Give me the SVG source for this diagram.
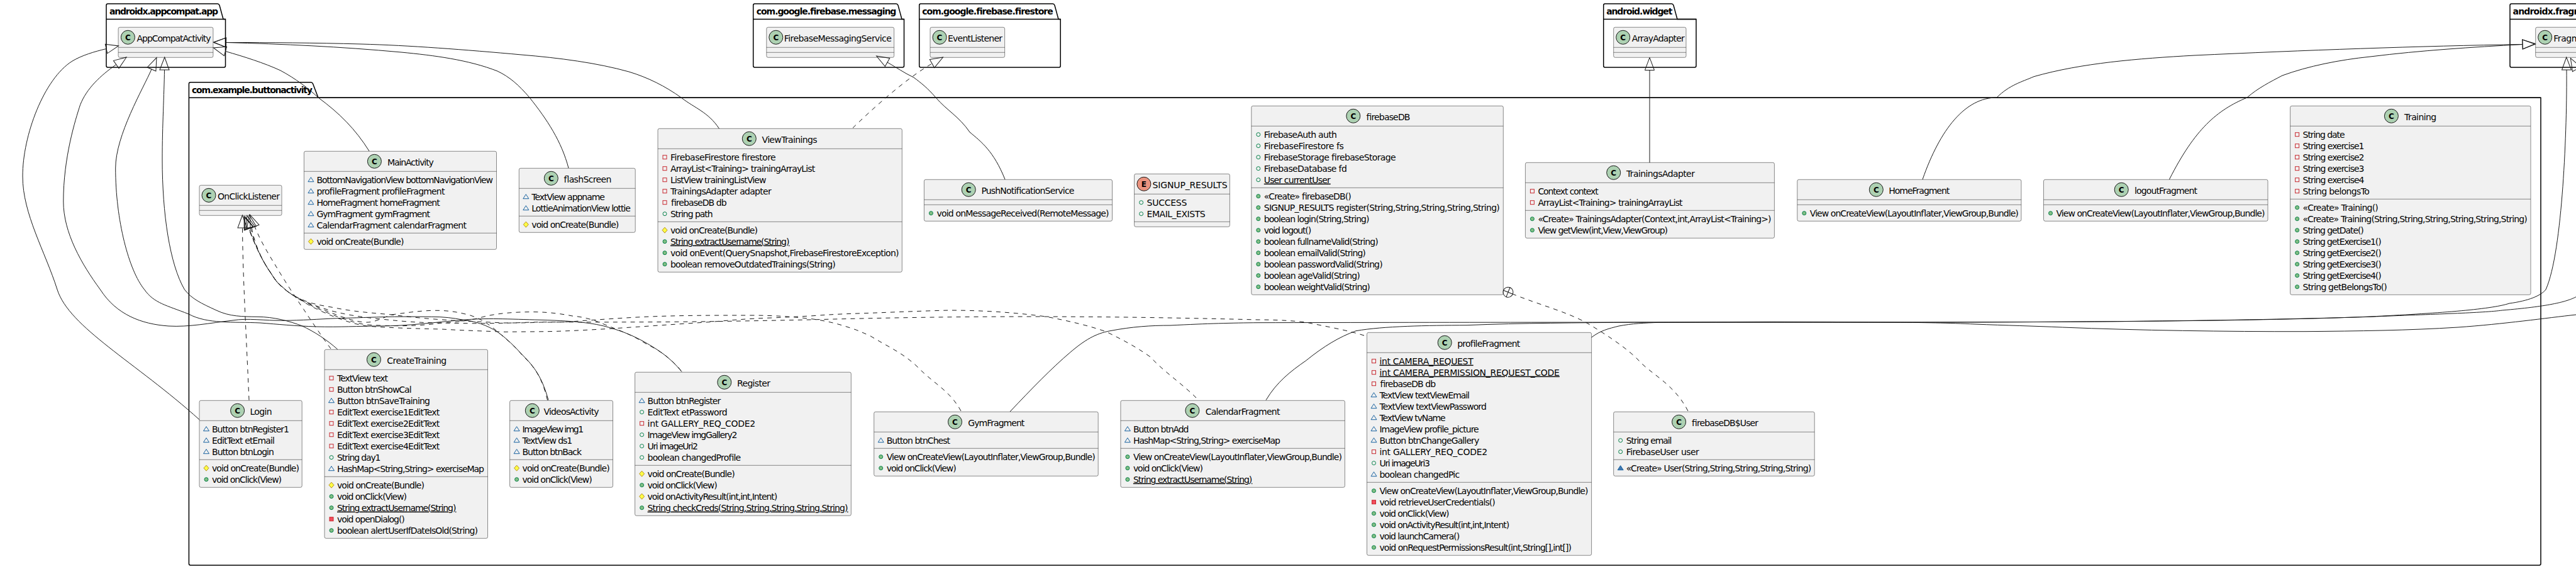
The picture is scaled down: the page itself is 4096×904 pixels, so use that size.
<svg xmlns="http://www.w3.org/2000/svg" width="4096" height="904" viewBox="0 0 4096 904">
<style>
svg{background:#fff}
text{font-family:"DejaVu Sans","Liberation Sans",sans-serif;font-size:14px;fill:#000}
.p{font-weight:bold}
.u{text-decoration:underline}
.sp{font-weight:bold;font-size:12px;text-anchor:middle}
.pk,.pl{fill:none;stroke:#000;stroke-width:1.5}
.b{fill:#F1F1F1;stroke:#181818;stroke-width:.5}
.d{stroke:#181818;stroke-width:.5}
.sc{fill:#ADD1B2;stroke:#181818}
.se{fill:#EB937F;stroke:#181818}
.c{fill:none;stroke:#181818;stroke-width:1}
.dd{stroke-dasharray:7,7}
.e{marker-end:url(#ext)}
.ah{fill:none;stroke:#181818;stroke-width:1}
</style>
<defs>
<marker id="ext" markerUnits="userSpaceOnUse" markerWidth="44" markerHeight="24" refX="1" refY="12" orient="auto" viewBox="0 0 44 24" overflow="visible"><path class="ah" d="M1,4.5 L21,12 L1,19.5 Z"/></marker>
<marker id="nest" markerUnits="userSpaceOnUse" markerWidth="20" markerHeight="20" refX="1" refY="10" orient="auto" viewBox="0 0 20 20" overflow="visible"><path class="ah" d="M9,2 A8,8 0 1 1 9,18 A8,8 0 1 1 9,2 Z M1,10 H17 M9,2 V18"/></marker>
<rect id="fp" x="-3" y="-3" width="6" height="6" fill="none" stroke="#C82930"/>
<path id="fk" d="M-4.5,3 L0,-4 L4.5,3 Z" fill="none" stroke="#1963A0"/>
<circle id="fu" r="3" fill="none" stroke="#038048"/>
<rect id="mp" x="-3" y="-3" width="6" height="6" fill="#F24D5C" stroke="#C82930"/>
<path id="mk" d="M-4.5,3 L0,-4 L4.5,3 Z" fill="#4177AF" stroke="#1963A0"/>
<circle id="mu" r="3" fill="#84BE84" stroke="#038048"/>
<path id="mo" d="M0,-4.5 L4,0 L0,4.5 L-4,0 Z" fill="#FFFF44" stroke="#B38D22"/>
</defs>

<g id="packages">
<g id="pkg-appcompat"><path class="pk" d="M171.5,6 H346 Q348,6 349,8.5 L355,30.5 H358.5 V104.5 Q358.5,107 356,107 H171.5 Q169,107 169,104.5 V8.5 Q169,6 171.5,6 Z"/><line class="pl" x1="169" y1="30.5" x2="358.5" y2="30.5"/><text class="p" x="174" y="23.3" textLength="173">androidx.appcompat.app</text></g>
<g id="pkg-messaging"><path class="pk" d="M1200,6 H1425 Q1427,6 1428,8.5 L1434,30.5 H1437.5 V104.5 Q1437.5,107 1435,107 H1200 Q1197.7,107 1197.7,104.5 V8.5 Q1197.7,6 1200,6 Z"/><line class="pl" x1="1197.7" y1="30.5" x2="1437.5" y2="30.5"/><text class="p" x="1202.8" y="23.3" textLength="222.6">com.google.firebase.messaging</text></g>
<g id="pkg-firestore"><path class="pk" d="M1464,6 H1674 Q1676,6 1677,8.5 L1683,30.5 H1686.2 V104.5 Q1686.2,107 1684,107 H1464 Q1461.7,107 1461.7,104.5 V8.5 Q1461.7,6 1464,6 Z"/><line class="pl" x1="1461.7" y1="30.5" x2="1686.2" y2="30.5"/><text class="p" x="1466.2" y="23.3" textLength="208.5">com.google.firebase.firestore</text></g>
<g id="pkg-widget"><path class="pk" d="M2552,6 H2658 Q2660,6 2661,8.5 L2667,30.5 H2697 V104.5 Q2697,107 2694.5,107 H2552 Q2549.7,107 2549.7,104.5 V8.5 Q2549.7,6 2552,6 Z"/><line class="pl" x1="2549.7" y1="30.5" x2="2697" y2="30.5"/><text class="p" x="2554.2" y="23.3" textLength="105.2">android.widget</text></g>
<g id="pkg-fragment"><path class="pk" d="M3993.5,6 H4160 L4166,30.5 H4200 V107 H3993.5 Q3991,107 3991,104.5 V8.5 Q3991,6 3993.5,6 Z"/><line class="pl" x1="3991" y1="30.5" x2="4200" y2="30.5"/><text class="p" x="3995.5" y="23.3" textLength="167">androidx.fragment.app</text></g>
<g id="pkg-buttonactivity"><path class="pk" d="M303,130.7 H494.5 Q496.5,130.7 497.5,133 L506,155.3 H4040 V895.5 Q4040,898 4037.5,898 H303 Q300.4,898 300.4,895.5 V133 Q300.4,130.7 303,130.7 Z"/><line class="pl" x1="300.4" y1="155.3" x2="4040" y2="155.3"/><text class="p" x="305" y="147.7" textLength="192">com.example.buttonactivity</text></g>
</g>

<g id="AppCompatActivity" transform="translate(188.1,43.3)"><rect class="b" width="150.8" height="48" rx="2.5"/><line class="d" x2="150.8" y1="32" y2="32"/><line class="d" x2="150.8" y1="40" y2="40"/><circle class="sc" cx="15.3" cy="16" r="11"/><text class="sp" x="15.3" y="20.4">C</text><text x="29.5" y="22.4" textLength="118">AppCompatActivity</text></g>
<g id="FirebaseMessagingService" transform="translate(1218.8,43.3)"><rect class="b" width="202.8" height="48" rx="2.5"/><line class="d" x2="202.8" y1="32" y2="32"/><line class="d" x2="202.8" y1="40" y2="40"/><circle class="sc" cx="15" cy="16" r="11"/><text class="sp" x="15" y="20.4">C</text><text x="28" y="22.4" textLength="171">FirebaseMessagingService</text></g>
<g id="EventListener" transform="translate(1479,43.3)"><rect class="b" width="118.6" height="48" rx="2.5"/><line class="d" x2="118.6" y1="32" y2="32"/><line class="d" x2="118.6" y1="40" y2="40"/><circle class="sc" cx="15" cy="16" r="11"/><text class="sp" x="15" y="20.4">C</text><text x="28" y="22.4" textLength="87">EventListener</text></g>
<g id="ArrayAdapter" transform="translate(2565.7,43.3)"><rect class="b" width="115.3" height="48" rx="2.5"/><line class="d" x2="115.3" y1="32" y2="32"/><line class="d" x2="115.3" y1="40" y2="40"/><circle class="sc" cx="15" cy="16" r="11"/><text class="sp" x="15" y="20.4">C</text><text x="29" y="22.4" textLength="84">ArrayAdapter</text></g>
<g id="Fragment" transform="translate(4031.7,43.3)"><rect class="b" width="100" height="48" rx="2.5"/><line class="d" x2="100" y1="32" y2="32"/><line class="d" x2="100" y1="40" y2="40"/><circle class="sc" cx="15" cy="16" r="11"/><text class="sp" x="15" y="20.4">C</text><text x="28.5" y="22.4" textLength="64">Fragment</text></g>

<g id="OnClickListener" transform="translate(317,294.3)"><rect class="b" width="131" height="48" rx="2.5"/><line class="d" x2="131" y1="32" y2="32"/><line class="d" x2="131" y1="40" y2="40"/><circle class="sc" cx="15" cy="16" r="11"/><text class="sp" x="15" y="20.4">C</text><text x="29" y="22.4" textLength="99">OnClickListener</text></g>

<g id="MainActivity" transform="translate(483.4,240.3)"><rect class="b" width="306.1" height="156" rx="2.5"/><line class="d" x2="306.1" y1="32" y2="32"/><line class="d" x2="306.1" y1="130" y2="130"/><circle class="sc" cx="112" cy="16" r="11"/><text class="sp" x="112" y="20.4">C</text><text x="132.5" y="22.4" textLength="74">MainActivity</text>
<use href="#fk" x="11" y="45.4"/><text x="20" y="50.4" textLength="280.6">BottomNavigationView bottomNavigationView</text>
<use href="#fk" x="11" y="63.4"/><text x="20" y="68.4" textLength="204">profileFragment profileFragment</text>
<use href="#fk" x="11" y="81.4"/><text x="20" y="86.4" textLength="196.4">HomeFragment homeFragment</text>
<use href="#fk" x="11" y="99.4"/><text x="20" y="104.4" textLength="180.5">GymFragment gymFragment</text>
<use href="#fk" x="11" y="117.4"/><text x="20" y="122.4" textLength="238.5">CalendarFragment calendarFragment</text>
<use href="#mo" x="11" y="143.4"/><text x="20" y="148.4" textLength="139">void onCreate(Bundle)</text></g>

<g id="flashScreen" transform="translate(825.3,267.3)"><rect class="b" width="184.9" height="102" rx="2.5"/><line class="d" x2="184.9" y1="32" y2="32"/><line class="d" x2="184.9" y1="76" y2="76"/><circle class="sc" cx="51" cy="16" r="11"/><text class="sp" x="51" y="20.4">C</text><text x="70.5" y="22.4" textLength="76">flashScreen</text>
<use href="#fk" x="11" y="45.4"/><text x="20" y="50.4" textLength="116.7">TextView appname</text>
<use href="#fk" x="11" y="63.4"/><text x="20" y="68.4" textLength="157.5">LottieAnimationView lottie</text>
<use href="#mo" x="11" y="89.4"/><text x="20" y="94.4" textLength="139">void onCreate(Bundle)</text></g>

<g id="ViewTrainings" transform="translate(1046,204.3)"><rect class="b" width="388.3" height="228" rx="2.5"/><line class="d" x2="388.3" y1="32" y2="32"/><line class="d" x2="388.3" y1="148" y2="148"/><circle class="sc" cx="145.3" cy="16" r="11"/><text class="sp" x="145.3" y="20.4">C</text><text x="165.5" y="22.4" textLength="88">ViewTrainings</text>
<use href="#fp" x="11" y="45.4"/><text x="20" y="50.4" textLength="167.7">FirebaseFirestore firestore</text>
<use href="#fp" x="11" y="63.4"/><text x="20" y="68.4" textLength="230.2">ArrayList&lt;Training&gt; trainingArrayList</text>
<use href="#fp" x="11" y="81.4"/><text x="20" y="86.4" textLength="152.4">ListView trainingListView</text>
<use href="#fp" x="11" y="99.4"/><text x="20" y="104.4" textLength="160.7">TrainingsAdapter adapter</text>
<use href="#fp" x="11" y="117.4"/><text x="20" y="122.4" textLength="88.6">firebaseDB db</text>
<use href="#fu" x="11" y="135.4"/><text x="20" y="140.4" textLength="67.6">String path</text>
<use href="#mo" x="11" y="161.4"/><text x="20" y="166.4" textLength="139">void onCreate(Bundle)</text>
<use href="#mu" x="11" y="179.4"/><text class="u" x="20" y="184.4" textLength="189.4">String extractUsername(String)</text>
<use href="#mu" x="11" y="197.4"/><text x="20" y="202.4" textLength="363.5">void onEvent(QuerySnapshot,FirebaseFirestoreException)</text>
<use href="#mu" x="11" y="215.4"/><text x="20" y="220.4" textLength="262.8">boolean removeOutdatedTrainings(String)</text></g>

<g id="PushNotificationService" transform="translate(1469.4,285.3)"><rect class="b" width="299.1" height="66" rx="2.5"/><line class="d" x2="299.1" y1="32" y2="32"/><line class="d" x2="299.1" y1="40" y2="40"/><circle class="sc" cx="70.8" cy="16" r="11"/><text class="sp" x="70.8" y="20.4">C</text><text x="91" y="22.4" textLength="148">PushNotificationService</text>
<use href="#mu" x="11" y="53.4"/><text x="20" y="58.4" textLength="274.2">void onMessageReceived(RemoteMessage)</text></g>

<g id="SIGNUP_RESULTS" transform="translate(1803.6,276.3)"><rect class="b" width="151.8" height="84" rx="2.5"/><line class="d" x2="151.8" y1="32" y2="32"/><line class="d" x2="151.8" y1="76" y2="76"/><circle class="se" cx="15.3" cy="16" r="11"/><text class="sp" x="15.3" y="20.4">E</text><text x="29" y="22.4" textLength="119">SIGNUP_RESULTS</text>
<use href="#fu" x="11" y="45.4"/><text x="20" y="50.4" textLength="63.8">SUCCESS</text>
<use href="#fu" x="11" y="63.4"/><text x="20" y="68.4" textLength="93">EMAIL_EXISTS</text></g>

<g id="firebaseDB" transform="translate(1989.8,168.3)"><rect class="b" width="400.5" height="300" rx="2.5"/><line class="d" x2="400.5" y1="32" y2="32"/><line class="d" x2="400.5" y1="130" y2="130"/><circle class="sc" cx="162" cy="16" r="11"/><text class="sp" x="162" y="20.4">C</text><text x="181.8" y="22.4" textLength="70">firebaseDB</text>
<use href="#fu" x="11" y="45.4"/><text x="20" y="50.4" textLength="116">FirebaseAuth auth</text>
<use href="#fu" x="11" y="63.4"/><text x="20" y="68.4" textLength="127">FirebaseFirestore fs</text>
<use href="#fu" x="11" y="81.4"/><text x="20" y="86.4" textLength="209.8">FirebaseStorage firebaseStorage</text>
<use href="#fu" x="11" y="99.4"/><text x="20" y="104.4" textLength="132">FirebaseDatabase fd</text>
<use href="#fu" x="11" y="117.4"/><text class="u" x="20" y="122.4" textLength="105.9">User currentUser</text>
<use href="#mu" x="11" y="143.4"/><text x="20" y="148.4" textLength="139">«Create» firebaseDB()</text>
<use href="#mu" x="11" y="161.4"/><text x="20" y="166.4" textLength="375">SIGNUP_RESULTS register(String,String,String,String,String)</text>
<use href="#mu" x="11" y="179.4"/><text x="20" y="184.4" textLength="167.7">boolean login(String,String)</text>
<use href="#mu" x="11" y="197.4"/><text x="20" y="202.4" textLength="75.3">void logout()</text>
<use href="#mu" x="11" y="215.4"/><text x="20" y="220.4" textLength="181.8">boolean fullnameValid(String)</text>
<use href="#mu" x="11" y="233.4"/><text x="20" y="238.4" textLength="162">boolean emailValid(String)</text>
<use href="#mu" x="11" y="251.4"/><text x="20" y="256.4" textLength="188.8">boolean passwordValid(String)</text>
<use href="#mu" x="11" y="269.4"/><text x="20" y="274.4" textLength="153">boolean ageValid(String)</text>
<use href="#mu" x="11" y="287.4"/><text x="20" y="292.4" textLength="169">boolean weightValid(String)</text></g>

<g id="TrainingsAdapter" transform="translate(2425.4,258.3)"><rect class="b" width="396" height="120" rx="2.5"/><line class="d" x2="396" y1="32" y2="32"/><line class="d" x2="396" y1="76" y2="76"/><circle class="sc" cx="140.3" cy="16" r="11"/><text class="sp" x="140.3" y="20.4">C</text><text x="160.5" y="22.4" textLength="109">TrainingsAdapter</text>
<use href="#fp" x="11" y="45.4"/><text x="20" y="50.4" textLength="96.3">Context context</text>
<use href="#fp" x="11" y="63.4"/><text x="20" y="68.4" textLength="230.2">ArrayList&lt;Training&gt; trainingArrayList</text>
<use href="#mu" x="11" y="89.4"/><text x="20" y="94.4" textLength="371.2">«Create» TrainingsAdapter(Context,int,ArrayList&lt;Training&gt;)</text>
<use href="#mu" x="11" y="107.4"/><text x="20" y="112.4" textLength="206.6">View getView(int,View,ViewGroup)</text></g>

<g id="HomeFragment" transform="translate(2857.8,285.3)"><rect class="b" width="356.1" height="66" rx="2.5"/><line class="d" x2="356.1" y1="32" y2="32"/><line class="d" x2="356.1" y1="40" y2="40"/><circle class="sc" cx="125.5" cy="16" r="11"/><text class="sp" x="125.5" y="20.4">C</text><text x="145.5" y="22.4" textLength="97">HomeFragment</text>
<use href="#mu" x="11" y="53.4"/><text x="20" y="58.4" textLength="332">View onCreateView(LayoutInflater,ViewGroup,Bundle)</text></g>

<g id="logoutFragment" transform="translate(3249.5,285.3)"><rect class="b" width="356.5" height="66" rx="2.5"/><line class="d" x2="356.5" y1="32" y2="32"/><line class="d" x2="356.5" y1="40" y2="40"/><circle class="sc" cx="123.7" cy="16" r="11"/><text class="sp" x="123.7" y="20.4">C</text><text x="144.5" y="22.4" textLength="100">logoutFragment</text>
<use href="#mu" x="11" y="53.4"/><text x="20" y="58.4" textLength="332">View onCreateView(LayoutInflater,ViewGroup,Bundle)</text></g>

<g id="Training" transform="translate(3641.6,168.3)"><rect class="b" width="382.4" height="300" rx="2.5"/><line class="d" x2="382.4" y1="32" y2="32"/><line class="d" x2="382.4" y1="148" y2="148"/><circle class="sc" cx="160.8" cy="16" r="11"/><text class="sp" x="160.8" y="20.4">C</text><text x="181.5" y="22.4" textLength="51">Training</text>
<use href="#fp" x="11" y="45.4"/><text x="20" y="50.4" textLength="67">String date</text>
<use href="#fp" x="11" y="63.4"/><text x="20" y="68.4" textLength="97.9">String exercise1</text>
<use href="#fp" x="11" y="81.4"/><text x="20" y="86.4" textLength="97.9">String exercise2</text>
<use href="#fp" x="11" y="99.4"/><text x="20" y="104.4" textLength="97.9">String exercise3</text>
<use href="#fp" x="11" y="117.4"/><text x="20" y="122.4" textLength="97.9">String exercise4</text>
<use href="#fp" x="11" y="135.4"/><text x="20" y="140.4" textLength="106.2">String belongsTo</text>
<use href="#mu" x="11" y="161.4"/><text x="20" y="166.4" textLength="120.2">«Create» Training()</text>
<use href="#mu" x="11" y="179.4"/><text x="20" y="184.4" textLength="357.2">«Create» Training(String,String,String,String,String,String)</text>
<use href="#mu" x="11" y="197.4"/><text x="20" y="202.4" textLength="97.2">String getDate()</text>
<use href="#mu" x="11" y="215.4"/><text x="20" y="220.4" textLength="125.1">String getExercise1()</text>
<use href="#mu" x="11" y="233.4"/><text x="20" y="238.4" textLength="125.1">String getExercise2()</text>
<use href="#mu" x="11" y="251.4"/><text x="20" y="256.4" textLength="125.1">String getExercise3()</text>
<use href="#mu" x="11" y="269.4"/><text x="20" y="274.4" textLength="125.1">String getExercise4()</text>
<use href="#mu" x="11" y="287.4"/><text x="20" y="292.4" textLength="134.2">String getBelongsTo()</text></g>

<g id="Login" transform="translate(317,636.3)"><rect class="b" width="163.2" height="138" rx="2.5"/><line class="d" x2="163.2" y1="32" y2="32"/><line class="d" x2="163.2" y1="94" y2="94"/><circle class="sc" cx="60.6" cy="16" r="11"/><text class="sp" x="60.6" y="20.4">C</text><text x="80.5" y="22.4" textLength="35">Login</text>
<use href="#fk" x="11" y="45.4"/><text x="20" y="50.4" textLength="123">Button btnRegister1</text>
<use href="#fk" x="11" y="63.4"/><text x="20" y="68.4" textLength="100">EditText etEmail</text>
<use href="#fk" x="11" y="81.4"/><text x="20" y="86.4" textLength="98.9">Button btnLogin</text>
<use href="#mo" x="11" y="107.4"/><text x="20" y="112.4" textLength="139">void onCreate(Bundle)</text>
<use href="#mu" x="11" y="125.4"/><text x="20" y="130.4" textLength="111">void onClick(View)</text></g>

<g id="CreateTraining" transform="translate(516,555.3)"><rect class="b" width="259.5" height="300" rx="2.5"/><line class="d" x2="259.5" y1="32" y2="32"/><line class="d" x2="259.5" y1="202" y2="202"/><circle class="sc" cx="78.4" cy="16" r="11"/><text class="sp" x="78.4" y="20.4">C</text><text x="99.2" y="22.4" textLength="95">CreateTraining</text>
<use href="#fp" x="11" y="45.4"/><text x="20" y="50.4" textLength="81">TextView text</text>
<use href="#fp" x="11" y="63.4"/><text x="20" y="68.4" textLength="118.6">Button btnShowCal</text>
<use href="#fk" x="11" y="81.4"/><text x="20" y="86.4" textLength="148">Button btnSaveTraining</text>
<use href="#fp" x="11" y="99.4"/><text x="20" y="104.4" textLength="163.3">EditText exercise1EditText</text>
<use href="#fp" x="11" y="117.4"/><text x="20" y="122.4" textLength="163.3">EditText exercise2EditText</text>
<use href="#fp" x="11" y="135.4"/><text x="20" y="140.4" textLength="163.3">EditText exercise3EditText</text>
<use href="#fp" x="11" y="153.4"/><text x="20" y="158.4" textLength="163.3">EditText exercise4EditText</text>
<use href="#fu" x="11" y="171.4"/><text x="20" y="176.4" textLength="69.5">String day1</text>
<use href="#fk" x="11" y="189.4"/><text x="20" y="194.4" textLength="234">HashMap&lt;String,String&gt; exerciseMap</text>
<use href="#mo" x="11" y="215.4"/><text x="20" y="220.4" textLength="139">void onCreate(Bundle)</text>
<use href="#mu" x="11" y="233.4"/><text x="20" y="238.4" textLength="111">void onClick(View)</text>
<use href="#mu" x="11" y="251.4"/><text class="u" x="20" y="256.4" textLength="189.4">String extractUsername(String)</text>
<use href="#mp" x="11" y="269.4"/><text x="20" y="274.4" textLength="107.8">void openDialog()</text>
<use href="#mu" x="11" y="287.4"/><text x="20" y="292.4" textLength="223.9">boolean alertUserIfDateIsOld(String)</text></g>

<g id="VideosActivity" transform="translate(810.6,636.3)"><rect class="b" width="163.9" height="138" rx="2.5"/><line class="d" x2="163.9" y1="32" y2="32"/><line class="d" x2="163.9" y1="94" y2="94"/><circle class="sc" cx="35.7" cy="16" r="11"/><text class="sp" x="35.7" y="20.4">C</text><text x="54" y="22.4" textLength="88">VideosActivity</text>
<use href="#fk" x="11" y="45.4"/><text x="20" y="50.4" textLength="97.6">ImageView img1</text>
<use href="#fk" x="11" y="63.4"/><text x="20" y="68.4" textLength="79.7">TextView ds1</text>
<use href="#fk" x="11" y="81.4"/><text x="20" y="86.4" textLength="94.4">Button btnBack</text>
<use href="#mo" x="11" y="107.4"/><text x="20" y="112.4" textLength="139">void onCreate(Bundle)</text>
<use href="#mu" x="11" y="125.4"/><text x="20" y="130.4" textLength="111">void onClick(View)</text></g>

<g id="Register" transform="translate(1009.6,591.3)"><rect class="b" width="343.7" height="228" rx="2.5"/><line class="d" x2="343.7" y1="32" y2="32"/><line class="d" x2="343.7" y1="148" y2="148"/><circle class="sc" cx="142.2" cy="16" r="11"/><text class="sp" x="142.2" y="20.4">C</text><text x="162.4" y="22.4" textLength="53">Register</text>
<use href="#fk" x="11" y="45.4"/><text x="20" y="50.4" textLength="116.7">Button btnRegister</text>
<use href="#fu" x="11" y="63.4"/><text x="20" y="68.4" textLength="127">EditText etPassword</text>
<use href="#fp" x="11" y="81.4"/><text x="20" y="86.4" textLength="171.6">int GALLERY_REQ_CODE2</text>
<use href="#fu" x="11" y="99.4"/><text x="20" y="104.4" textLength="142.9">ImageView imgGallery2</text>
<use href="#fu" x="11" y="117.4"/><text x="20" y="122.4" textLength="80.4">Uri imageUri2</text>
<use href="#fu" x="11" y="135.4"/><text x="20" y="140.4" textLength="148.6">boolean changedProfile</text>
<use href="#mo" x="11" y="161.4"/><text x="20" y="166.4" textLength="139">void onCreate(Bundle)</text>
<use href="#mu" x="11" y="179.4"/><text x="20" y="184.4" textLength="111">void onClick(View)</text>
<use href="#mo" x="11" y="197.4"/><text x="20" y="202.4" textLength="206.6">void onActivityResult(int,int,Intent)</text>
<use href="#mu" x="11" y="215.4"/><text class="u" x="20" y="220.4" textLength="318.9">String checkCreds(String,String,String,String,String)</text></g>

<g id="GymFragment" transform="translate(1389.7,654.3)"><rect class="b" width="356.5" height="102" rx="2.5"/><line class="d" x2="356.5" y1="32" y2="32"/><line class="d" x2="356.5" y1="58" y2="58"/><circle class="sc" cx="128.8" cy="16" r="11"/><text class="sp" x="128.8" y="20.4">C</text><text x="149.6" y="22.4" textLength="90">GymFragment</text>
<use href="#fk" x="11" y="45.4"/><text x="20" y="50.4" textLength="101.4">Button btnChest</text>
<use href="#mu" x="11" y="71.4"/><text x="20" y="76.4" textLength="332">View onCreateView(LayoutInflater,ViewGroup,Bundle)</text>
<use href="#mu" x="11" y="89.4"/><text x="20" y="94.4" textLength="111">void onClick(View)</text></g>

<g id="CalendarFragment" transform="translate(1781.9,636.3)"><rect class="b" width="356.5" height="138" rx="2.5"/><line class="d" x2="356.5" y1="32" y2="32"/><line class="d" x2="356.5" y1="76" y2="76"/><circle class="sc" cx="114" cy="16" r="11"/><text class="sp" x="114" y="20.4">C</text><text x="134.8" y="22.4" textLength="118.7">CalendarFragment</text>
<use href="#fk" x="11" y="45.4"/><text x="20" y="50.4" textLength="88.6">Button btnAdd</text>
<use href="#fk" x="11" y="63.4"/><text x="20" y="68.4" textLength="234">HashMap&lt;String,String&gt; exerciseMap</text>
<use href="#mu" x="11" y="89.4"/><text x="20" y="94.4" textLength="332">View onCreateView(LayoutInflater,ViewGroup,Bundle)</text>
<use href="#mu" x="11" y="107.4"/><text x="20" y="112.4" textLength="111">void onClick(View)</text>
<use href="#mu" x="11" y="125.4"/><text class="u" x="20" y="130.4" textLength="189.4">String extractUsername(String)</text></g>

<g id="profileFragment" transform="translate(2173.5,528.3)"><rect class="b" width="357.1" height="354" rx="2.5"/><line class="d" x2="357.1" y1="32" y2="32"/><line class="d" x2="357.1" y1="238" y2="238"/><circle class="sc" cx="123.7" cy="16" r="11"/><text class="sp" x="123.7" y="20.4">C</text><text x="143.8" y="22.4" textLength="100">profileFragment</text>
<use href="#fp" x="11" y="45.4"/><text class="u" x="20" y="50.4" textLength="149.2">int CAMERA_REQUEST</text>
<use href="#fp" x="11" y="63.4"/><text class="u" x="20" y="68.4" textLength="286.4">int CAMERA_PERMISSION_REQUEST_CODE</text>
<use href="#fp" x="11" y="81.4"/><text x="20" y="86.4" textLength="88.6">firebaseDB db</text>
<use href="#fk" x="11" y="99.4"/><text x="20" y="104.4" textLength="143.5">TextView textViewEmail</text>
<use href="#fk" x="11" y="117.4"/><text x="20" y="122.4" textLength="170.3">TextView textViewPassword</text>
<use href="#fk" x="11" y="135.4"/><text x="20" y="140.4" textLength="105.2">TextView tvName</text>
<use href="#fk" x="11" y="153.4"/><text x="20" y="158.4" textLength="158.2">ImageView profile_picture</text>
<use href="#fk" x="11" y="171.4"/><text x="20" y="176.4" textLength="158.8">Button btnChangeGallery</text>
<use href="#fp" x="11" y="189.4"/><text x="20" y="194.4" textLength="171.6">int GALLERY_REQ_CODE2</text>
<use href="#fu" x="11" y="207.4"/><text x="20" y="212.4" textLength="80.4">Uri imageUri3</text>
<use href="#fk" x="11" y="225.4"/><text x="20" y="230.4" textLength="127.6">boolean changedPic</text>
<use href="#mu" x="11" y="251.4"/><text x="20" y="256.4" textLength="332">View onCreateView(LayoutInflater,ViewGroup,Bundle)</text>
<use href="#mp" x="11" y="269.4"/><text x="20" y="274.4" textLength="184.3">void retrieveUserCredentials()</text>
<use href="#mu" x="11" y="287.4"/><text x="20" y="292.4" textLength="111">void onClick(View)</text>
<use href="#mu" x="11" y="305.4"/><text x="20" y="310.4" textLength="206.6">void onActivityResult(int,int,Intent)</text>
<use href="#mu" x="11" y="323.4"/><text x="20" y="328.4" textLength="127.6">void launchCamera()</text>
<use href="#mu" x="11" y="341.4"/><text x="20" y="346.4" textLength="305.5">void onRequestPermissionsResult(int,String[],int[])</text></g>

<g id="firebaseDB-User" transform="translate(2565.7,654.3)"><rect class="b" width="319.5" height="102" rx="2.5"/><line class="d" x2="319.5" y1="32" y2="32"/><line class="d" x2="319.5" y1="76" y2="76"/><circle class="sc" cx="103.9" cy="16" r="11"/><text class="sp" x="103.9" y="20.4">C</text><text x="123.5" y="22.4" textLength="106">firebaseDB$User</text>
<use href="#fu" x="11" y="45.4"/><text x="20" y="50.4" textLength="72.7">String email</text>
<use href="#fu" x="11" y="63.4"/><text x="20" y="68.4" textLength="116">FirebaseUser user</text>
<use href="#mk" x="11" y="89.4"/><text x="20" y="94.4" textLength="294.6">«Create» User(String,String,String,String,String)</text></g>

<g id="connectors">
<path id="e-main" class="c e" d="M587,240 C565,205 540,180 506,155 C490,140 470,125 446,112 C420,100 388,90 358.5,81.5"/>
<path id="e-flash" class="c e" d="M904,267 C893,225 870,190 842,155 C825,135 810,122 791,113 C745,95 690,88 638,83 C540,74 450,70 359.5,67.5"/>
<path id="e-view" class="c e" d="M1143.5,204.3 C1126,178 1105,172 1083,155 C1058,137 1030,123 1000,114 C950,100 890,92 829,87 C740,79 650,72 574,70 C500,68 430,67.5 359.5,67.5"/>
<path id="e-login" class="c e" d="M317,666.7 C215,575 110,520 91,460 C72,400 36,340 36,280 C36,215 70,125 115,97 C130,88 150,82 169,77.5"/>
<path id="e-videos" class="c e" d="M872,635.7 C862,600 850,583 831.7,565 C818,550 805,537 790,526.7 C775,517 755,510 736.7,508.3 C720,505 705,503.3 686.7,503.3 C660,503 640,503 620,503.3 C590,504 565,505 536.7,505.7 C505,507 480,509 450,509.3 C420,509.5 395,505 370,509 C335,513 300,520 268,518 C225,515 185,500 159.4,460 C130,420 100.8,370 100.8,320 C100.8,250 120,190 127.5,166.7 C138,140 160,120 184.7,102.5"/>
<path id="e-register" class="c e" d="M1084,590.7 C1065,567 1045,555 1026,544 C1005,532 985,525 973,521.7 C950,514 920,510 860,508.3 C810,507 770,505 736.7,508.3 C690,512 650,518 603,518 C570,518 540,520 503,519 C470,518 440,515 414,513 C370,511 330,515 300,499 C265,485 245,482 229.6,460 C205,430 183.7,350 183.7,267 C183.7,215 228,140 241,110"/>
<path id="e-create" class="c e" d="M536.7,555 C520,540 500,527 480,517.7 C460,510 435,503.5 410,503.3 C385,503 365,503 344,493 C320,482 305,475 293.4,460 C270,420 258,340 258,253 C258,200 261,150 261.5,111"/>
<path id="i-login" class="c dd e" d="M396,635.7 C392,540 386,440 385.5,362"/>
<path id="i-create" class="c dd e" d="M526,554 C512,535 495,510 483,491.7 C468,470 452,445 440,425 C428,405 415,385 405,360"/>
<path id="i-videos" class="c dd e" d="M870.5,635.7 C862,600 850,583 832,566 C820,552 805,538 791,527 C778,515 760,503 740,499 C720,494 705,493 687,493.3 C665,494 645,497 623,500 C605,506 595,513 580,512 C555,510 530,498 490,482 C470,472 458,465 450,456.7 C438,448 434,438 426.7,428 C415,410 405,388 396,363"/>
<path id="i-register" class="c dd e" d="M1083,589 C1065,567 1045,555 1027,546 C1005,532 985,525 960,515 C945,508 925,503 910,502 C885,497 860,495 837,495.7 C815,496 790,498 770,503 C755,507 745,509 737,510 C725,512 715,512 703,513 C680,516 650,520 583,516 C560,513 525,500 490,483 C470,472 458,465 450,456.7 C438,448 434,438 426.7,428 C415,410 405,388 395.3,363"/>
<path id="i-gym" class="c dd e" d="M1528,653 C1510,620 1485,610 1459,583 C1435,560 1410,550 1382.7,533 C1370,528 1365,525 1355,522 C1335,515 1315,510 1293,507 C1260,503 1230,501 1193,501 C1130,501 1080,501 1027,503.3 C990,505 950,508 920,510 C900,512 880,512 860,512 C840,513 820,513 800,513 C780,512 760,511 737,510 C700,508 660,505 623,500 C590,497 560,495 527,488 C515,486 503,484 490,480 C470,472 458,465 450,456.7 C438,448 434,438 426.7,428 C415,410 405,388 396,363"/>
<path id="i-calendar" class="c dd e" d="M1902,632 C1880,610 1850,590 1829,567 C1805,550 1785,540 1759,527 C1730,517 1700,510 1663,503 C1610,496 1560,493 1510,493 C1460,494 1400,497 1355,498.3 C1335,499 1315,500 1293,501.7 C1270,503 1250,504 1227,505 C1190,506 1160,509 1127,511.7 C1075,515 1020,519 973,522 C940,524 905,526 870,526.7 C850,527 825,527 803,527.3 C770,526 735,525 703,523 C660,522 620,521 583,518 C555,514 520,500 490,484 C470,472 458,465 450,456.7 C438,448 434,438 426.7,428 C415,410 405,388 398,362"/>
<path id="i-profile" class="c dd e" d="M2169,533 C2140,524 2105,518 2076.5,512 C2050,509 2025,508 2000,508 C1880,505 1760,503 1638,503 C1520,503 1400,505 1287,508 C1190,510 1090,511.7 993,511.7 C950,512 905,511.7 860,511.7 C840,512 820,513 803,513.3 C770,514 735,514 703,513 C680,513 660,512 637,510 C605,507 570,504 540,497 C525,494 505,487 490,481 C470,472 458,465 450,456.7 C438,448 434,438 426.7,428 C415,410 405,388 400,361"/>
<path id="e-messaging" class="c e" d="M1598,285 C1580,240 1560,225 1542,210 C1525,185 1505,175 1488,155 C1475,140 1465,132 1452.8,123 C1438,116 1425,107 1411,99"/>
<path id="i-firestore" class="c dd e" d="M1356,203.3 C1385,175 1440,125 1482,101"/>
<path id="e-adapter" class="c e" d="M2623,258.3 L2623,111.5"/>
<path id="e-home" class="c e" d="M3057,285 C3085,205 3125,155 3175,155 C3195,135 3215,130 3234,121.7 C3310,100 3400,93 3489,88 C3660,80 3850,73 4011,70.5"/>
<path id="e-logout" class="c e" d="M3449.4,285 C3490,205 3525,175 3573,155 C3590,140 3610,130 3629,120 C3670,105 3720,95 3769,90 C3850,80 3930,75 4011,70.5"/>
<path id="e-gym" class="c e" d="M1606,654 C1640,618 1672,585 1701.5,560 C1725,540 1742,530 1765,525.7 C1800,519 1830,517 1861,517 C1920,514 1960,513 2000,512.7 C2300,512 2700,512 3000,512 C3300,512 3600,510 3769,503 C3870,498 3960,492 3990,482 C4020,478 4040,470 4048,460 C4075,400 4082,200 4081,111"/>
<path id="e-calendar" class="c e" d="M2013,635.7 C2030,607 2052,590 2076.5,573 C2105,550 2130,535 2156,525.7 C2200,518 2270,517 2332,516.7 C2420,513 2510,513 2600,512 C2800,512 2900,512 3000,512 C3300,512 3550,510 3769,503.3 C3870,499 3950,497 3978.5,493 C4050,487 4080,480 4096,471.7 C4140,450 4160,420 4170,380 C4170,250 4130,170 4097,110"/>
<path id="e-profile" class="c" d="M2530.6,536 C2545,525 2558,522 2574,518 C2595,514 2615,513 2638,512.3 C2760,511 2880,511 3000,512 C3060,512.5 3100,513 3140,515 C3190,517 3235,518 3279.6,520 C3400,525 3540,527 3664,526.7 C3750,526 3830,525 3908,520 C3980,515 4050,505 4096,500 C4150,490 4200,400 4200,300"/>
<path id="n-user" class="c dd" marker-end="url(#nest)" d="M2684,653 C2662,610 2626,595 2606,573 C2590,556 2560,535 2523,513 C2490,495 2450,485 2405.4,467.2"/>
</g>
</svg>
